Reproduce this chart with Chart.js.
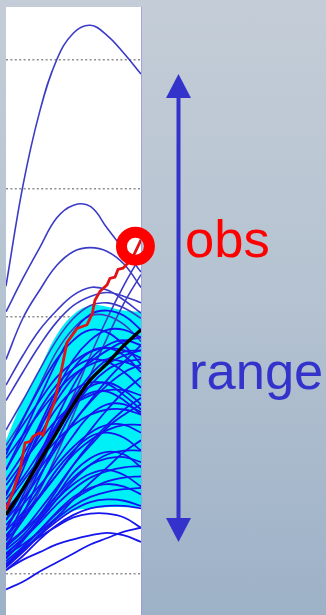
<!DOCTYPE html>
<html>
<head>
<meta charset="utf-8">
<script src="https://cdn.jsdelivr.net/npm/chart.js@4.4.1/dist/chart.umd.min.js"></script>
<style>
  html, body { margin: 0; padding: 0; width: 326px; height: 615px; overflow: hidden; }
  body {
    position: relative;
    background: linear-gradient(to bottom, #c4cdd7 0%, #b4c2d1 50%, #9db1c7 100%);
    font-family: "Liberation Sans", Arial, sans-serif;
  }
  #wrap { position: absolute; left: 0; top: 0; width: 326px; height: 615px; }
  .lbl { position: absolute; font-size: 52.5px; line-height: 52.5px; white-space: nowrap; }
  #obs { left: 185px; top: 212.5px; color: #ff0000; }
  #range { left: 189px; top: 344.5px; color: #3333cc; }
</style>
</head>
<body>
<div id="wrap"><canvas id="c"></canvas></div>
<div class="lbl" id="obs">obs</div>
<div class="lbl" id="range">range</div>
<script>
// forecast steps along the x axis
const steps = [0, 1, 2, 3, 4, 5, 6, 7, 8];
// horizontal reference levels
const yTicks = [0, 1, 2, 3, 4];

// ensemble members lying above the central band
const outerMembers = [
  [2.24, 3.02, 3.60, 4.00, 4.21, 4.27, 4.19, 4.05, 3.89],
  [2.04, 2.30, 2.54, 2.77, 2.87, 2.86, 2.69, 2.52, 2.35],
  [1.67, 1.99, 2.21, 2.40, 2.51, 2.54, 2.51, 2.41, 2.23],
  [1.47, 1.70, 1.90, 2.05, 2.17, 2.23, 2.21, 2.13, 2.03],
  [1.35, 1.57, 1.78, 1.96, 2.09, 2.16, 2.19, 2.16, 2.11],
  [1.12, 1.35, 1.59, 1.82, 1.99, 2.09, 2.11, 2.07, 1.99],
  [1.00, 1.21, 1.47, 1.73, 1.91, 2.01, 2.01, 1.94, 1.81],
  [0.34, 0.58, 0.85, 1.12, 1.39, 1.70, 1.99, 2.25, 2.48],
  [0.23, 0.42, 0.65, 0.93, 1.24, 1.55, 1.84, 2.11, 2.33]
];

// ensemble members in the main bundle
const members = [
  [0.96, 1.16, 1.35, 1.53, 1.65, 1.73, 1.76, 1.74, 1.68],
  [0.81, 1.04, 1.28, 1.47, 1.60, 1.67, 1.65, 1.57, 1.45],
  [0.73, 0.93, 1.14, 1.35, 1.53, 1.65, 1.74, 1.81, 1.84],
  [0.63, 0.85, 1.08, 1.29, 1.43, 1.49, 1.48, 1.39, 1.28],
  [0.58, 0.75, 0.95, 1.16, 1.35, 1.51, 1.63, 1.70, 1.74],
  [0.54, 0.72, 0.89, 1.04, 1.16, 1.24, 1.28, 1.28, 1.24],
  [0.47, 0.67, 0.90, 1.14, 1.32, 1.41, 1.42, 1.35, 1.24],
  [0.42, 0.58, 0.77, 0.98, 1.18, 1.34, 1.47, 1.57, 1.63],
  [0.38, 0.54, 0.69, 0.85, 0.99, 1.10, 1.16, 1.16, 1.10],
  [0.34, 0.48, 0.67, 0.89, 1.08, 1.24, 1.32, 1.32, 1.26],
  [0.30, 0.46, 0.61, 0.77, 0.93, 1.04, 1.12, 1.16, 1.16],
  [0.26, 0.42, 0.61, 0.81, 0.96, 1.07, 1.10, 1.06, 0.96],
  [0.23, 0.34, 0.50, 0.67, 0.85, 1.00, 1.14, 1.24, 1.32],
  [0.21, 0.33, 0.46, 0.61, 0.75, 0.85, 0.90, 0.91, 0.87],
  [0.16, 0.28, 0.42, 0.58, 0.73, 0.85, 0.93, 0.96, 0.96],
  [0.13, 0.26, 0.44, 0.61, 0.79, 0.90, 0.95, 0.93, 0.83],
  [0.16, 0.27, 0.40, 0.54, 0.66, 0.75, 0.80, 0.83, 0.84],
  [0.12, 0.26, 0.42, 0.58, 0.70, 0.78, 0.81, 0.77, 0.68],
  [0.10, 0.21, 0.34, 0.47, 0.58, 0.66, 0.72, 0.75, 0.76],
  [0.08, 0.20, 0.34, 0.48, 0.60, 0.67, 0.70, 0.68, 0.62],
  [0.06, 0.18, 0.31, 0.43, 0.53, 0.60, 0.64, 0.66, 0.67],
  [0.05, 0.17, 0.30, 0.41, 0.50, 0.56, 0.58, 0.57, 0.53],
  [0.03, 0.14, 0.27, 0.38, 0.46, 0.51, 0.53, 0.53, 0.51],
  [0.07, 0.19, 0.29, 0.37, 0.44, 0.47, 0.47, 0.44, 0.36],
  [0.03, 0.11, 0.17, 0.23, 0.27, 0.30, 0.32, 0.30, 0.25],
  [-0.12, -0.06, 0.02, 0.09, 0.16, 0.23, 0.28, 0.33, 0.36],
  [0.69, 0.87, 1.04, 1.20, 1.32, 1.39, 1.43, 1.43, 1.39],
  [0.90, 1.08, 1.26, 1.42, 1.55, 1.63, 1.67, 1.65, 1.60],
  [0.50, 0.65, 0.82, 1.00, 1.18, 1.35, 1.51, 1.65, 1.78],
  [0.29, 0.44, 0.60, 0.77, 0.95, 1.12, 1.28, 1.42, 1.53],
  [0.19, 0.30, 0.46, 0.65, 0.85, 1.02, 1.16, 1.28, 1.37],
  [0.15, 0.23, 0.33, 0.44, 0.58, 0.71, 0.83, 0.95, 1.04],
  [0.81, 1.08, 1.37, 1.65, 1.88, 2.02, 2.05, 2.01, 1.90],
  [0.61, 0.87, 1.16, 1.43, 1.67, 1.82, 1.90, 1.90, 1.84],
  [0.42, 0.65, 0.93, 1.21, 1.47, 1.67, 1.78, 1.82, 1.78],
  [0.93, 1.20, 1.45, 1.67, 1.82, 1.90, 1.88, 1.78, 1.63],
  [0.26, 0.54, 0.82, 1.12, 1.37, 1.55, 1.67, 1.73, 1.74],
  [0.50, 0.81, 1.12, 1.39, 1.60, 1.73, 1.76, 1.70, 1.57],
  [0.20, 0.46, 0.75, 1.03, 1.28, 1.47, 1.59, 1.65, 1.67],
  [0.34, 0.61, 0.90, 1.16, 1.35, 1.46, 1.49, 1.43, 1.32]
];

// central band limits
const bandHigh = [1.04, 1.35, 1.60, 1.86, 2.02, 2.09, 2.08, 2.05, 2.04];
const bandLow  = [0.05, 0.17, 0.31, 0.42, 0.49, 0.51, 0.52, 0.52, 0.52];

// ensemble mean
const meanLine = [0.46, 0.66, 0.88, 1.10, 1.32, 1.51, 1.64, 1.78, 1.90];

// observations
const obsX = [0, 0.41, 0.83, 1.13, 1.42, 1.60, 2.01, 2.19, 2.61, 2.90, 3.26, 3.61, 4.21, 4.80,
              5.10, 5.27, 5.57, 5.99, 6.16, 6.46, 6.64, 6.93, 7.23, 7.53, 8.00];
const obsY = [0.50, 0.64, 0.81, 1.02, 1.03, 1.07, 1.10, 1.08, 1.25, 1.35, 1.57, 1.80, 1.91, 1.94,
              2.02, 2.13, 2.20, 2.25, 2.30, 2.31, 2.37, 2.38, 2.42, 2.47, 2.60];
// latest observation highlighted with a ring
const obsMark = { x: 7.67, y: 2.55 };

const pts = arr => steps.map((x, i) => ({ x, y: arr[i] }));

const datasets = [];
datasets.push({
  data: pts(bandHigh), fill: '+1', backgroundColor: '#00f0f8',
  borderWidth: 0, pointRadius: 0, tension: 0.4, order: 30
});
datasets.push({
  data: pts(bandLow), fill: false, borderWidth: 0, pointRadius: 0, tension: 0.4, order: 31
});
outerMembers.forEach(m => datasets.push({
  data: pts(m), borderColor: '#3b3bc8', borderWidth: 1.6,
  pointRadius: 0, tension: 0.4, fill: false, order: 10
}));
members.forEach(m => datasets.push({
  data: pts(m), borderColor: '#1515ee', borderWidth: 1.8,
  pointRadius: 0, tension: 0.4, fill: false, order: 9
}));
datasets.push({
  data: pts(meanLine), borderColor: '#000000', borderWidth: 3.4,
  pointRadius: 0, tension: 0.4, fill: false, order: 3
});
datasets.push({
  data: obsX.map((x, i) => ({ x, y: obsY[i] })), borderColor: '#e01414', borderWidth: 2.8,
  pointRadius: 0, tension: 0, fill: false, order: 2
});
datasets.push({
  data: [obsMark], showLine: false, pointRadius: 14, pointBorderWidth: 11,
  pointBorderColor: '#ff0000', pointBackgroundColor: 'rgba(0,0,0,0)', clip: false, order: 1
});

// white plotting panel
const panel = {
  id: 'panel',
  beforeDraw(chart) {
    const { ctx, chartArea: a } = chart;
    ctx.save();
    ctx.fillStyle = '#ffffff';
    ctx.fillRect(a.left, a.top, a.right - a.left, a.bottom - a.top);
    ctx.strokeStyle = 'rgba(160,150,225,0.8)';
    ctx.lineWidth = 1;
    ctx.beginPath();
    ctx.moveTo(a.right + 0.5, a.top);
    ctx.lineTo(a.right + 0.5, a.bottom);
    ctx.stroke();
    ctx.restore();
  }
};

// double arrow spanning the spread of the members at the last step
const rangeArrow = {
  id: 'rangeArrow',
  afterDraw(chart) {
    const { ctx, scales: { y } } = chart;
    const ends = outerMembers.concat(members).map(m => m[m.length - 1]);
    const top = y.getPixelForValue(Math.max(...ends));
    const bot = y.getPixelForValue(Math.min(...ends));
    const x = 178.5, hw = 12.5, hh = 24;
    ctx.save();
    ctx.fillStyle = '#3333cc';
    ctx.strokeStyle = '#3333cc';
    ctx.lineWidth = 4;
    ctx.beginPath();
    ctx.moveTo(x, top + hh - 2);
    ctx.lineTo(x, bot - hh + 2);
    ctx.stroke();
    ctx.beginPath();
    ctx.moveTo(x, top);
    ctx.lineTo(x + hw, top + hh);
    ctx.lineTo(x - hw, top + hh);
    ctx.closePath();
    ctx.fill();
    ctx.beginPath();
    ctx.moveTo(x, bot);
    ctx.lineTo(x + hw, bot - hh);
    ctx.lineTo(x - hw, bot - hh);
    ctx.closePath();
    ctx.fill();
    ctx.restore();
  }
};

new Chart(document.getElementById('c'), {
  type: 'line',
  data: { datasets },
  plugins: [panel, rangeArrow],
  options: {
    responsive: true,
    maintainAspectRatio: false,
    animation: false,
    events: [],
    layout: { autoPadding: false, padding: { left: 6, right: 185, top: 7, bottom: 0 } },
    plugins: { legend: { display: false }, tooltip: { enabled: false } },
    scales: {
      x: { type: 'linear', min: 0, max: 8, display: false },
      y: {
        type: 'linear', min: -0.319, max: 4.412,
        afterBuildTicks: s => { s.ticks = yTicks.map(v => ({ value: v })); },
        ticks: { display: false },
        border: { display: false, dash: [2, 2.4] },
        grid: { color: '#8e8e8e', lineWidth: 1.4, drawTicks: false }
      }
    }
  }
});
</script>
</body>
</html>
